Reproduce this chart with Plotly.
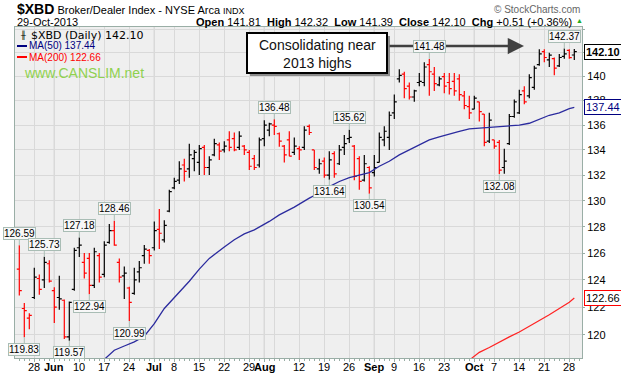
import math
import pandas as pd
import plotly.graph_objects as go

# ---------------- data ----------------
holidays = ['2013-05-27', '2013-07-04', '2013-09-02']
dates = pd.bdate_range('2013-05-22', '2013-10-29', freq='C', holidays=holidays)
date_str = [d.strftime('%Y-%m-%d') for d in dates]
pos = {d: i for i, d in enumerate(date_str)}

prior_close = 125.0

open_ = [124.8, 121.9, 121.2, 122.7, 124.1, 124.0, 125.2,
         123.2, 122.7, 122.5, 119.85, 123.3,
         126.4, 125.3, 125.6, 123.6, 125.8,
         124.4, 126.8, 127.7, 125.3, 124.3,
         123.4, 123.0, 124.6, 125.8, 126.2,
         126.4, 127.8, 127.0, 129.2,
         131.0, 131.6, 132.8, 132.5, 133.3,
         133.0, 134.2, 132.6, 133.6, 134.4,
         134.0, 134.8, 134.9, 134.2, 134.3,
         133.8, 133.3, 132.8, 134.9, 135.6,
         136.0, 135.3, 134.3, 134.8, 133.8,
         134.1, 134.2, 135.9, 134.0, 132.5,
         133.1, 132.0, 133.7, 132.9, 134.2,
         134.9, 134.3, 133.3, 131.6, 132.6,
         132.2, 133.0, 134.8, 135.0,
         137.0, 139.8, 140.2, 139.2, 138.3,
         139.5, 139.5, 141.0, 140.2, 139.3,
         140.0, 139.5, 139.6, 139.8, 138.4,
         137.5, 137.3, 137.9, 136.9, 134.7,
         134.8, 134.6, 132.6, 134.5, 136.7,
         137.0, 138.8, 138.4, 139.1, 141.0,
         142.1, 141.4, 141.5, 140.9, 141.7,
         142.2, 141.81]
high = [126.59, 122.3, 121.55, 124.9, 124.4, 125.73, 125.46,
        123.45, 124.3, 122.55, 122.4, 126.4,
        127.18, 126.0, 126.0, 126.4, 126.0,
        126.9, 128.2, 128.46, 125.6, 125.0,
        123.5, 124.9, 125.4, 126.6, 126.3,
        128.4, 129.35, 128.5, 130.85,
        131.8, 133.1, 133.3, 134.5, 134.0,
        134.4, 134.4, 133.5, 134.9, 134.6,
        134.7, 135.5, 135.4, 135.5, 134.4,
        134.0, 133.6, 135.0, 136.4, 136.2,
        136.48, 135.4, 134.4, 135.5, 135.0,
        134.3, 135.9, 136.05, 134.0, 133.3,
        133.4, 133.9, 133.9, 134.4, 135.2,
        135.62, 134.4, 133.5, 133.6, 132.7,
        133.6, 135.4, 135.9, 137.1,
        138.5, 140.6, 140.4, 139.5, 138.9,
        140.3, 141.2, 141.48, 140.8, 140.0,
        140.3, 140.3, 140.3, 140.2, 138.8,
        138.4, 138.4, 137.9, 136.9, 137.0,
        134.8, 134.8, 134.1, 136.9, 138.1,
        138.9, 139.2, 140.2, 140.9, 142.3,
        142.3, 142.0, 141.6, 141.9, 142.37,
        142.3, 142.32]
low = [122.85, 119.83, 120.4, 122.6, 122.9, 123.4, 123.8,
       120.85, 121.8, 119.7, 119.57, 123.2,
       125.7, 124.1, 122.94, 123.4, 123.8,
       124.2, 126.7, 126.55, 123.8, 122.6,
       120.99, 122.9, 123.8, 125.2, 125.2,
       126.2, 126.3, 126.8, 129.1,
       130.9, 131.3, 131.5, 131.8, 132.3,
       132.0, 132.0, 132.0, 133.5, 133.2,
       133.8, 133.9, 133.9, 134.0, 133.6,
       132.4, 132.4, 132.6, 134.3, 135.1,
       135.2, 134.25, 133.0, 133.5, 133.6,
       133.2, 134.0, 135.2, 132.4, 132.1,
       131.8, 131.64, 131.8, 132.8, 133.6,
       134.55, 131.6, 130.85, 131.5, 130.54,
       131.9, 133.0, 134.3, 134.0,
       136.5, 139.5, 138.2, 138.1, 137.9,
       139.2, 139.2, 138.4, 138.8, 139.2,
       138.6, 138.5, 138.4, 138.0, 137.3,
       136.5, 137.3, 136.3, 134.3, 134.55,
       134.1, 132.08, 132.1, 134.4, 136.6,
       136.9, 137.7, 138.2, 138.9, 140.9,
       141.2, 140.8, 140.1, 140.8, 141.5,
       141.5, 141.39]
close = [123.2, 121.75, 121.4, 124.2, 123.3, 125.3, 123.9,
         122.0, 122.6, 119.85, 122.35, 126.2,
         126.6, 124.5, 123.6, 126.1, 124.2,
         126.6, 127.7, 126.6, 124.2, 124.5,
         122.35, 124.0, 124.9, 126.3, 125.8,
         127.7, 127.5, 128.1, 130.7,
         131.5, 132.5, 132.3, 133.6, 133.8,
         134.1, 132.6, 133.2, 134.5, 133.9,
         134.3, 134.2, 134.0, 135.1, 134.0,
         132.7, 132.6, 134.8, 136.0, 136.1,
         135.9, 134.7, 133.6, 133.5, 134.3,
         134.0, 135.6, 135.4, 132.6, 132.9,
         132.0, 133.2, 132.1, 134.0, 134.5,
         135.0, 131.9, 131.5, 132.9, 131.0,
         132.6, 135.0, 135.5, 136.8,
         137.9, 140.1, 139.0, 138.3, 138.8,
         139.6, 140.8, 140.4, 139.4, 139.8,
         139.2, 139.0, 138.8, 138.5, 137.6,
         137.0, 138.2, 137.1, 134.6, 136.4,
         134.3, 132.4, 133.1, 136.7, 137.9,
         138.5, 137.9, 139.9, 140.7, 141.9,
         141.6, 141.8, 140.7, 141.6, 141.9,
         141.59, 142.10]

ma50_dates = ['2013-06-17', '2013-06-19', '2013-06-21', '2013-06-25', '2013-06-27',
              '2013-07-01', '2013-07-03', '2013-07-09', '2013-07-11', '2013-07-15',
              '2013-07-17', '2013-07-22', '2013-07-24', '2013-07-26', '2013-07-30',
              '2013-08-02', '2013-08-06', '2013-08-09', '2013-08-14', '2013-08-16',
              '2013-08-20', '2013-08-22', '2013-08-26', '2013-08-28', '2013-08-30',
              '2013-09-04', '2013-09-06', '2013-09-10', '2013-09-12', '2013-09-16',
              '2013-09-18', '2013-09-20', '2013-09-24', '2013-09-26', '2013-09-30',
              '2013-10-02', '2013-10-04', '2013-10-08', '2013-10-10', '2013-10-14',
              '2013-10-16', '2013-10-18', '2013-10-22', '2013-10-24', '2013-10-28',
              '2013-10-29']
ma50_vals = [118.25, 118.9, 119.2, 119.5, 119.9,
             120.8, 121.9, 123.1, 123.9, 124.8,
             125.6, 126.45, 127.0, 127.45, 127.75,
             128.4, 128.9, 129.5, 130.2, 130.6,
             131.1, 131.5, 131.8, 132.0, 132.2,
             132.7, 133.1, 133.6, 134.0, 134.4,
             134.8, 135.05, 135.3, 135.5, 135.7,
             135.75, 135.8, 135.85, 135.95, 136.0,
             136.15, 136.45, 136.8, 137.0, 137.35,
             137.44]

ma200_dates = ['2013-09-30', '2013-10-02', '2013-10-04', '2013-10-08', '2013-10-10',
               '2013-10-14', '2013-10-16', '2013-10-18', '2013-10-22', '2013-10-24',
               '2013-10-28', '2013-10-29']
ma200_vals = [118.2, 118.75, 119.1, 119.5, 119.85,
              120.2, 120.6, 121.0, 121.45, 121.9,
              122.35, 122.66]

tick_dates = ['2013-05-28', '2013-06-03', '2013-06-10', '2013-06-17', '2013-06-24',
              '2013-07-01', '2013-07-08', '2013-07-15', '2013-07-22', '2013-07-29',
              '2013-08-01', '2013-08-05', '2013-08-12', '2013-08-19', '2013-08-26',
              '2013-09-03', '2013-09-09', '2013-09-16', '2013-09-23', '2013-10-01',
              '2013-10-07', '2013-10-14', '2013-10-21', '2013-10-28']
tick_text = ['28', '<b>Jun</b>', '10', '17', '24',
             '<b>Jul</b>', '8', '15', '22', '29',
             '<b>Aug</b>', '', '12', '19', '26',
             '<b>Sep</b>', '9', '16', '23', '<b>Oct</b>',
             '7', '14', '21', '28']
month_dates = ['2013-06-03', '2013-07-01', '2013-08-01', '2013-09-03', '2013-10-01']

y_ticks = [120, 122, 124, 126, 128, 130, 132, 134, 136, 138, 140, 142, 144]
y_ticktext = ['120', '122', '124', '126', '128', '130', '132', '134', '136', '138', '140', '', '']

high_labels = ['2013-05-22', '2013-05-30', '2013-06-10', '2013-06-19',
               '2013-08-05', '2013-08-26', '2013-09-18', '2013-10-25']
low_labels = ['2013-05-23', '2013-06-06', '2013-06-12', '2013-06-24',
              '2013-08-20', '2013-08-30', '2013-10-08']

# ---------------- layout helpers ----------------
W, H = 621, 377
PL, PR, PT, PB = 15, 582, 27, 358


def px(x):
    return (x - PL) / (PR - PL)


def py(y):
    return (PB - y) / (PB - PT)


AXIS = '#9aaea6'
GRID = '#d9d9d9'

# ---------------- figure ----------------
fig = go.Figure()

n = len(date_str)
up_idx, dn_idx = [], []
for i in range(n):
    prev = close[i - 1] if i > 0 else prior_close
    (up_idx if close[i] > prev else dn_idx).append(i)

for idxs, col in ((up_idx, '#000000'), (dn_idx, '#ff0000')):
    fig.add_trace(go.Ohlc(
        x=idxs,
        open=[open_[i] for i in idxs], high=[high[i] for i in idxs],
        low=[low[i] for i in idxs], close=[close[i] for i in idxs],
        increasing=dict(line=dict(color=col, width=1.2)),
        decreasing=dict(line=dict(color=col, width=1.2)),
        tickwidth=0.5, hoverinfo='skip', showlegend=False))

fig.add_trace(go.Scatter(x=[pos[d] for d in ma50_dates], y=ma50_vals, mode='lines',
                         line=dict(color='#2b2b9e', width=1.3), hoverinfo='skip',
                         showlegend=False))
fig.add_trace(go.Scatter(x=[pos[d] for d in ma200_dates], y=ma200_vals, mode='lines',
                         line=dict(color='#ff2222', width=1.2), hoverinfo='skip',
                         showlegend=False))

shapes = []
for d in month_dates:
    shapes.append(dict(type='line', xref='x', yref='paper', x0=pos[d], x1=pos[d], y0=0, y1=1,
                       line=dict(color='#b9b9b9', width=1), layer='between'))
# legend sample lines
shapes.append(dict(type='line', xref='paper', yref='paper', x0=px(17), x1=px(27), y0=py(46), y1=py(46),
                   line=dict(color='#000080', width=2)))
shapes.append(dict(type='line', xref='paper', yref='paper', x0=px(17), x1=px(27), y0=py(57), y1=py(57),
                   line=dict(color='#ff0000', width=2)))
# callout box with shadow
shapes.append(dict(type='rect', xref='paper', yref='paper', x0=px(250), x1=px(390), y0=py(76), y1=py(36),
                   line=dict(width=0), fillcolor='#8c8c8c', layer='above'))
shapes.append(dict(type='rect', xref='paper', yref='paper', x0=px(247), x1=px(387), y0=py(73), y1=py(33),
                   line=dict(color='#000000', width=2), fillcolor='#ffffff', layer='above'))

ann = []
FONT = 'Arial, Liberation Sans, sans-serif'
# x tick labels (drawn as annotations so they sit close under the axis)
for d, t in zip(tick_dates, tick_text):
    if t:
        ann.append(dict(xref='x', yref='paper', x=pos[d], y=py(367), xanchor='center', yanchor='middle',
                        showarrow=False, text=t, font=dict(family=FONT, size=11, color='#000000')))
# header
ann.append(dict(xref='paper', yref='paper', x=px(15), y=py(9), xanchor='left', yanchor='middle',
                showarrow=False,
                text="<b>$XBD</b><span style='font-size:11px'> Broker/Dealer Index - NYSE Arca </span>"
                     "<span style='font-size:9px'>INDX</span>",
                font=dict(family=FONT, size=14, color='#000000')))
ann.append(dict(xref='paper', yref='paper', x=px(15), y=py(22), xanchor='left', yanchor='middle',
                showarrow=False, text='29-Oct-2013', font=dict(family=FONT, size=11, color='#000000')))
ann.append(dict(xref='paper', yref='paper', x=px(574), y=py(22), xanchor='right', yanchor='middle',
                showarrow=False,
                text='<b>Open</b> 141.81  <b>High</b> 142.32  <b>Low</b> 141.39  '
                     '<b>Close</b> 142.10  <b>Chg</b> +0.51 (+0.36%)',
                font=dict(family=FONT, size=11, color='#000000')))
ann.append(dict(xref='paper', yref='paper', x=px(579), y=py(21), xanchor='center', yanchor='middle',
                showarrow=False, text='▲', font=dict(family=FONT, size=7, color='#22aa22')))
ann.append(dict(xref='paper', yref='paper', x=px(582), y=py(9), xanchor='right', yanchor='middle',
                showarrow=False, text='© StockCharts.com', font=dict(family=FONT, size=10, color='#666666')))
# in-plot legend
ann.append(dict(xref='paper', yref='paper', x=px(29), y=py(35), xanchor='left', yanchor='middle',
                showarrow=False, text='$XBD (Daily) 142.10',
                font=dict(family='DejaVu Sans, sans-serif', size=11, color='#000000')))
ann.append(dict(xref='paper', yref='paper', x=px(18), y=py(35), xanchor='left', yanchor='middle',
                showarrow=False, text='╫', font=dict(family='DejaVu Sans, sans-serif', size=8, color='#000000')))
ann.append(dict(xref='paper', yref='paper', x=px(27), y=py(46), xanchor='left', yanchor='middle',
                showarrow=False, text='MA(50) 137.44', font=dict(family=FONT, size=10, color='#000080')))
ann.append(dict(xref='paper', yref='paper', x=px(27), y=py(57), xanchor='left', yanchor='middle',
                showarrow=False, text='MA(200) 122.66', font=dict(family=FONT, size=10, color='#ff0000')))
ann.append(dict(xref='paper', yref='paper', x=px(22), y=py(73), xanchor='left', yanchor='middle',
                showarrow=False, text='www.CANSLIM.net', font=dict(family=FONT, size=14, color='#8fd14f')))
# consolidation note and arrow
ann.append(dict(xref='paper', yref='paper', x=px(317), y=py(54), xanchor='center', yanchor='middle',
                showarrow=False, text='Consolidating near<br>2013 highs',
                font=dict(family=FONT, size=14, color='#111111')))
ann.append(dict(xref='paper', yref='paper', x=px(524), y=py(46), text='', showarrow=True,
                ax=-136, ay=0, arrowhead=2, arrowsize=1.3, arrowwidth=2.5, arrowcolor='#404040',
                standoff=0, startstandoff=0))

# price callouts
CB = '#a9bdb5'
for d in high_labels:
    i = pos[d]
    ann.append(dict(x=i, y=math.log10(high[i]), xref='x', yref='y', text=f'{high[i]:.2f}',
                    showarrow=True, arrowhead=0, arrowwidth=1, arrowcolor=CB, ax=0, ay=-12,
                    standoff=0, bordercolor=CB, borderwidth=1, borderpad=0, bgcolor='#f7f7f7',
                    font=dict(family=FONT, size=10, color='#000000')))
for d in low_labels:
    i = pos[d]
    ann.append(dict(x=i, y=math.log10(low[i]), xref='x', yref='y', text=f'{low[i]:.2f}',
                    showarrow=True, arrowhead=0, arrowwidth=1, arrowcolor=CB, ax=0, ay=12,
                    standoff=0, bordercolor=CB, borderwidth=1, borderpad=0, bgcolor='#f7f7f7',
                    font=dict(family=FONT, size=10, color='#000000')))

# right-side value boxes
for val, txt, bc, fc, bold in ((close[-1], '142.10', '#000000', '#000000', True),
                               (ma50_vals[-1], '137.44', '#000080', '#000080', False),
                               (ma200_vals[-1], '122.66', '#ff0000', '#000000', False)):
    ann.append(dict(xref='paper', yref='y', x=1, y=math.log10(val), xanchor='left', yanchor='middle',
                    xshift=2, showarrow=False, text=f'<b>{txt}</b>' if bold else txt,
                    bordercolor=bc, borderwidth=1, borderpad=1, bgcolor='#ffffff',
                    font=dict(family=FONT, size=11, color=fc)))

fig.update_layout(
    width=W, height=H, autosize=False,
    margin=dict(l=PL, r=W - PR, t=PT, b=H - PB, pad=0),
    paper_bgcolor='#ffffff', plot_bgcolor='#efefef',
    showlegend=False, hovermode=False,
    shapes=shapes, annotations=ann,
    xaxis=dict(range=[-0.86, 112.54], tickmode='array', automargin=False,
               tickvals=[pos[d] for d in tick_dates], ticktext=tick_text,
               showticklabels=False,
               showgrid=True, gridcolor=GRID, gridwidth=1, zeroline=False,
               showline=True, linecolor=AXIS, linewidth=1, mirror=True,
               ticks='outside', ticklen=3, tickcolor=AXIS,
               rangeslider=dict(visible=False),
               minor=dict(tickmode='linear', tick0=0, dtick=1, ticks='outside', ticklen=2,
                          tickcolor=AXIS, showgrid=False)),
    yaxis=dict(type='log', range=[math.log10(118.35), math.log10(144.2)], side='right',
               tickmode='array', tickvals=y_ticks, ticktext=y_ticktext, automargin=False,
               showgrid=True, gridcolor=GRID, gridwidth=1, zeroline=False,
               showline=True, linecolor=AXIS, linewidth=1, mirror=True,
               ticks='outside', ticklen=2, tickcolor=AXIS,
               tickfont=dict(family=FONT, size=11, color='#000000')),
)

fig.write_html('out.html')
